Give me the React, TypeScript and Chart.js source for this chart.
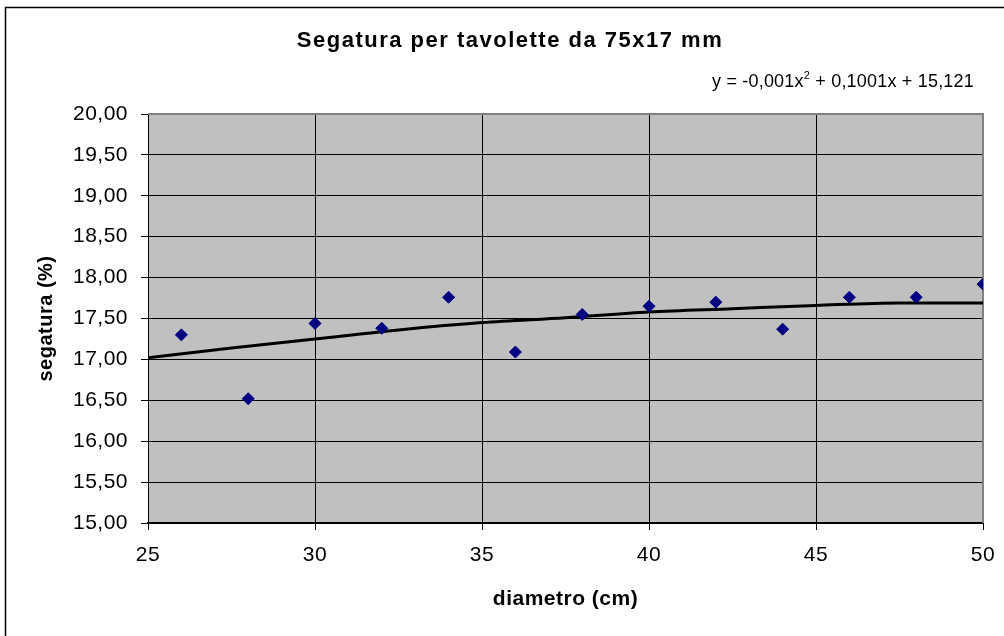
import React, { useEffect, useRef } from "react";
import { Chart, registerables } from "chart.js";

Chart.register(...registerables);

const diametri = [26, 28, 30, 32, 34, 36, 38, 40, 42, 44, 46, 48, 50];
const segatura = [17.3, 16.52, 17.44, 17.38, 17.76, 17.09, 17.55, 17.65, 17.7, 17.37, 17.76, 17.76, 17.92];

const trendX = [25, 27.5, 30, 32.5, 35, 37.5, 40, 42.5, 45, 47.5, 50];
const trendY = [17.02, 17.14, 17.25, 17.36, 17.45, 17.51, 17.58, 17.62, 17.66, 17.69, 17.69];

const titleText = "Segatura per tavolette da 75x17 mm";
const eqParts = ["y = -0,001x", "2", " + 0,1001x + 15,121"];
const xTitle = "diametro (cm)";
const yTitle = "segatura (%)";
const xMin = 25, xMax = 50, xStep = 5;
const yMin = 15, yMax = 20, yStep = 0.5;

const FONT = "'Liberation Sans', Arial, sans-serif";

const decorPlugin = {
  id: "decor",
  beforeUpdate(chart: any) {
    chart.ctx.letterSpacing = "0.5px";
  },
  beforeDraw(chart: any) {
    const { ctx, chartArea: a } = chart;
    ctx.letterSpacing = "0.5px";
    ctx.save();
    ctx.fillStyle = "#ffffff";
    ctx.fillRect(0, 0, chart.width, chart.height);
    ctx.fillStyle = "#c0c0c0";
    ctx.fillRect(a.left, a.top, a.right - a.left, a.bottom - a.top);
    ctx.restore();
  },
  beforeDatasetsDraw(chart: any) {
    const { ctx, chartArea: a } = chart;
    ctx.save();
    ctx.strokeStyle = "#808080";
    ctx.lineWidth = 2;
    ctx.beginPath();
    ctx.moveTo(a.left, a.top);
    ctx.lineTo(a.right, a.top);
    ctx.lineTo(a.right, a.bottom);
    ctx.stroke();
    ctx.restore();
  },
  afterDraw(chart: any) {
    const { ctx } = chart;
    ctx.save();
    // outer frame
    ctx.strokeStyle = "#000000";
    ctx.lineWidth = 1.5;
    ctx.beginPath();
    ctx.moveTo(5.5, chart.height);
    ctx.lineTo(5.5, 7.5);
    ctx.lineTo(chart.width, 7.5);
    ctx.stroke();
    // title
    ctx.fillStyle = "#000000";
    ctx.font = `bold 22px ${FONT}`;
    ctx.letterSpacing = "1.5px";
    ctx.textAlign = "center";
    ctx.textBaseline = "alphabetic";
    ctx.fillText(titleText, 510, 47);
    // equation
    ctx.letterSpacing = "0.2px";
    const big = `18px ${FONT}`;
    const small = `11px ${FONT}`;
    ctx.font = big;
    const w1 = ctx.measureText(eqParts[0]).width;
    const w3 = ctx.measureText(eqParts[2]).width;
    ctx.font = small;
    const w2 = ctx.measureText(eqParts[1]).width;
    const right = 974;
    const start = right - (w1 + w2 + w3);
    const base = 87;
    ctx.textAlign = "left";
    ctx.font = big;
    ctx.fillText(eqParts[0], start, base);
    ctx.font = small;
    ctx.fillText(eqParts[1], start + w1, base - 8);
    ctx.font = big;
    ctx.fillText(eqParts[2], start + w1 + w2, base);
    ctx.restore();
  },
};

export default function App() {
  const ref = useRef<HTMLCanvasElement | null>(null);

  useEffect(() => {
    if (!ref.current) return;
    const chart = new Chart(ref.current, {
      type: "scatter",
      data: {
        datasets: [
          {
            label: "trend",
            data: trendX.map((x, i) => ({ x, y: trendY[i] })),
            showLine: true,
            borderColor: "#000000",
            borderWidth: 3,
            pointRadius: 0,
            cubicInterpolationMode: "monotone",
            order: 2,
          },
          {
            label: "segatura",
            data: diametri.map((x, i) => ({ x, y: segatura[i] })),
            pointStyle: "rectRot",
            pointRadius: 6,
            pointBackgroundColor: "#000080",
            pointBorderColor: "#000080",
            pointBorderWidth: 1,
            showLine: false,
            order: 1,
          },
        ],
      },
      options: {
        responsive: false,
        animation: false,
        devicePixelRatio: 1,
        layout: { padding: { top: 114, right: 21, bottom: 0, left: 0 } },
        plugins: {
          legend: { display: false },
          tooltip: { enabled: false },
          title: { display: false },
        },
        scales: {
          x: {
            type: "linear",
            min: xMin,
            max: xMax,
            afterBuildTicks: (s: any) => {
              const t = [];
              for (let v = xMin; v <= xMax; v += xStep) t.push({ value: v });
              s.ticks = t;
            },
            afterFit: (s: any) => {
              s.height = 113;
              s.paddingLeft = 0;
              s.paddingRight = 0;
            },
            grid: {
              color: "#000000",
              lineWidth: 1,
              tickLength: 7,
              drawOnChartArea: true,
            },
            border: { color: "#000000", width: 2 },
            ticks: {
              color: "#000000",
              font: { family: FONT, size: 21 },
              padding: 13,
              maxRotation: 0,
              callback: (v: any) => String(v),
            },
            title: {
              display: true,
              text: xTitle,
              color: "#000000",
              font: { family: FONT, size: 21, weight: "bold" },
              padding: { top: 0, bottom: 24 },
            },
          },
          y: {
            type: "linear",
            min: yMin,
            max: yMax,
            afterBuildTicks: (s: any) => {
              const t = [];
              for (let v = yMin; v <= yMax + 1e-9; v += yStep) t.push({ value: Math.round(v * 100) / 100 });
              s.ticks = t;
            },
            afterFit: (s: any) => {
              s.width = 148;
              s.paddingTop = 0;
              s.paddingBottom = 0;
            },
            grid: {
              color: "#000000",
              lineWidth: 1,
              tickLength: 7,
              drawOnChartArea: true,
            },
            border: { color: "#000000", width: 1 },
            ticks: {
              color: "#000000",
              font: { family: FONT, size: 21 },
              padding: 13,
              callback: (v: any) => Number(v).toFixed(2).replace(".", ","),
            },
            title: {
              display: true,
              text: yTitle,
              color: "#000000",
              font: { family: FONT, size: 20, weight: "bold" },
              padding: { top: 34, bottom: 0 },
            },
          },
        },
      },
      plugins: [decorPlugin],
    });
    return () => chart.destroy();
  }, []);

  return (
    <div style={{ position: "absolute", left: 0, top: 0, width: 1004, height: 636 }}>
      <canvas ref={ref} width={1004} height={636} style={{ width: 1004, height: 636, display: "block" }} />
    </div>
  );
}
